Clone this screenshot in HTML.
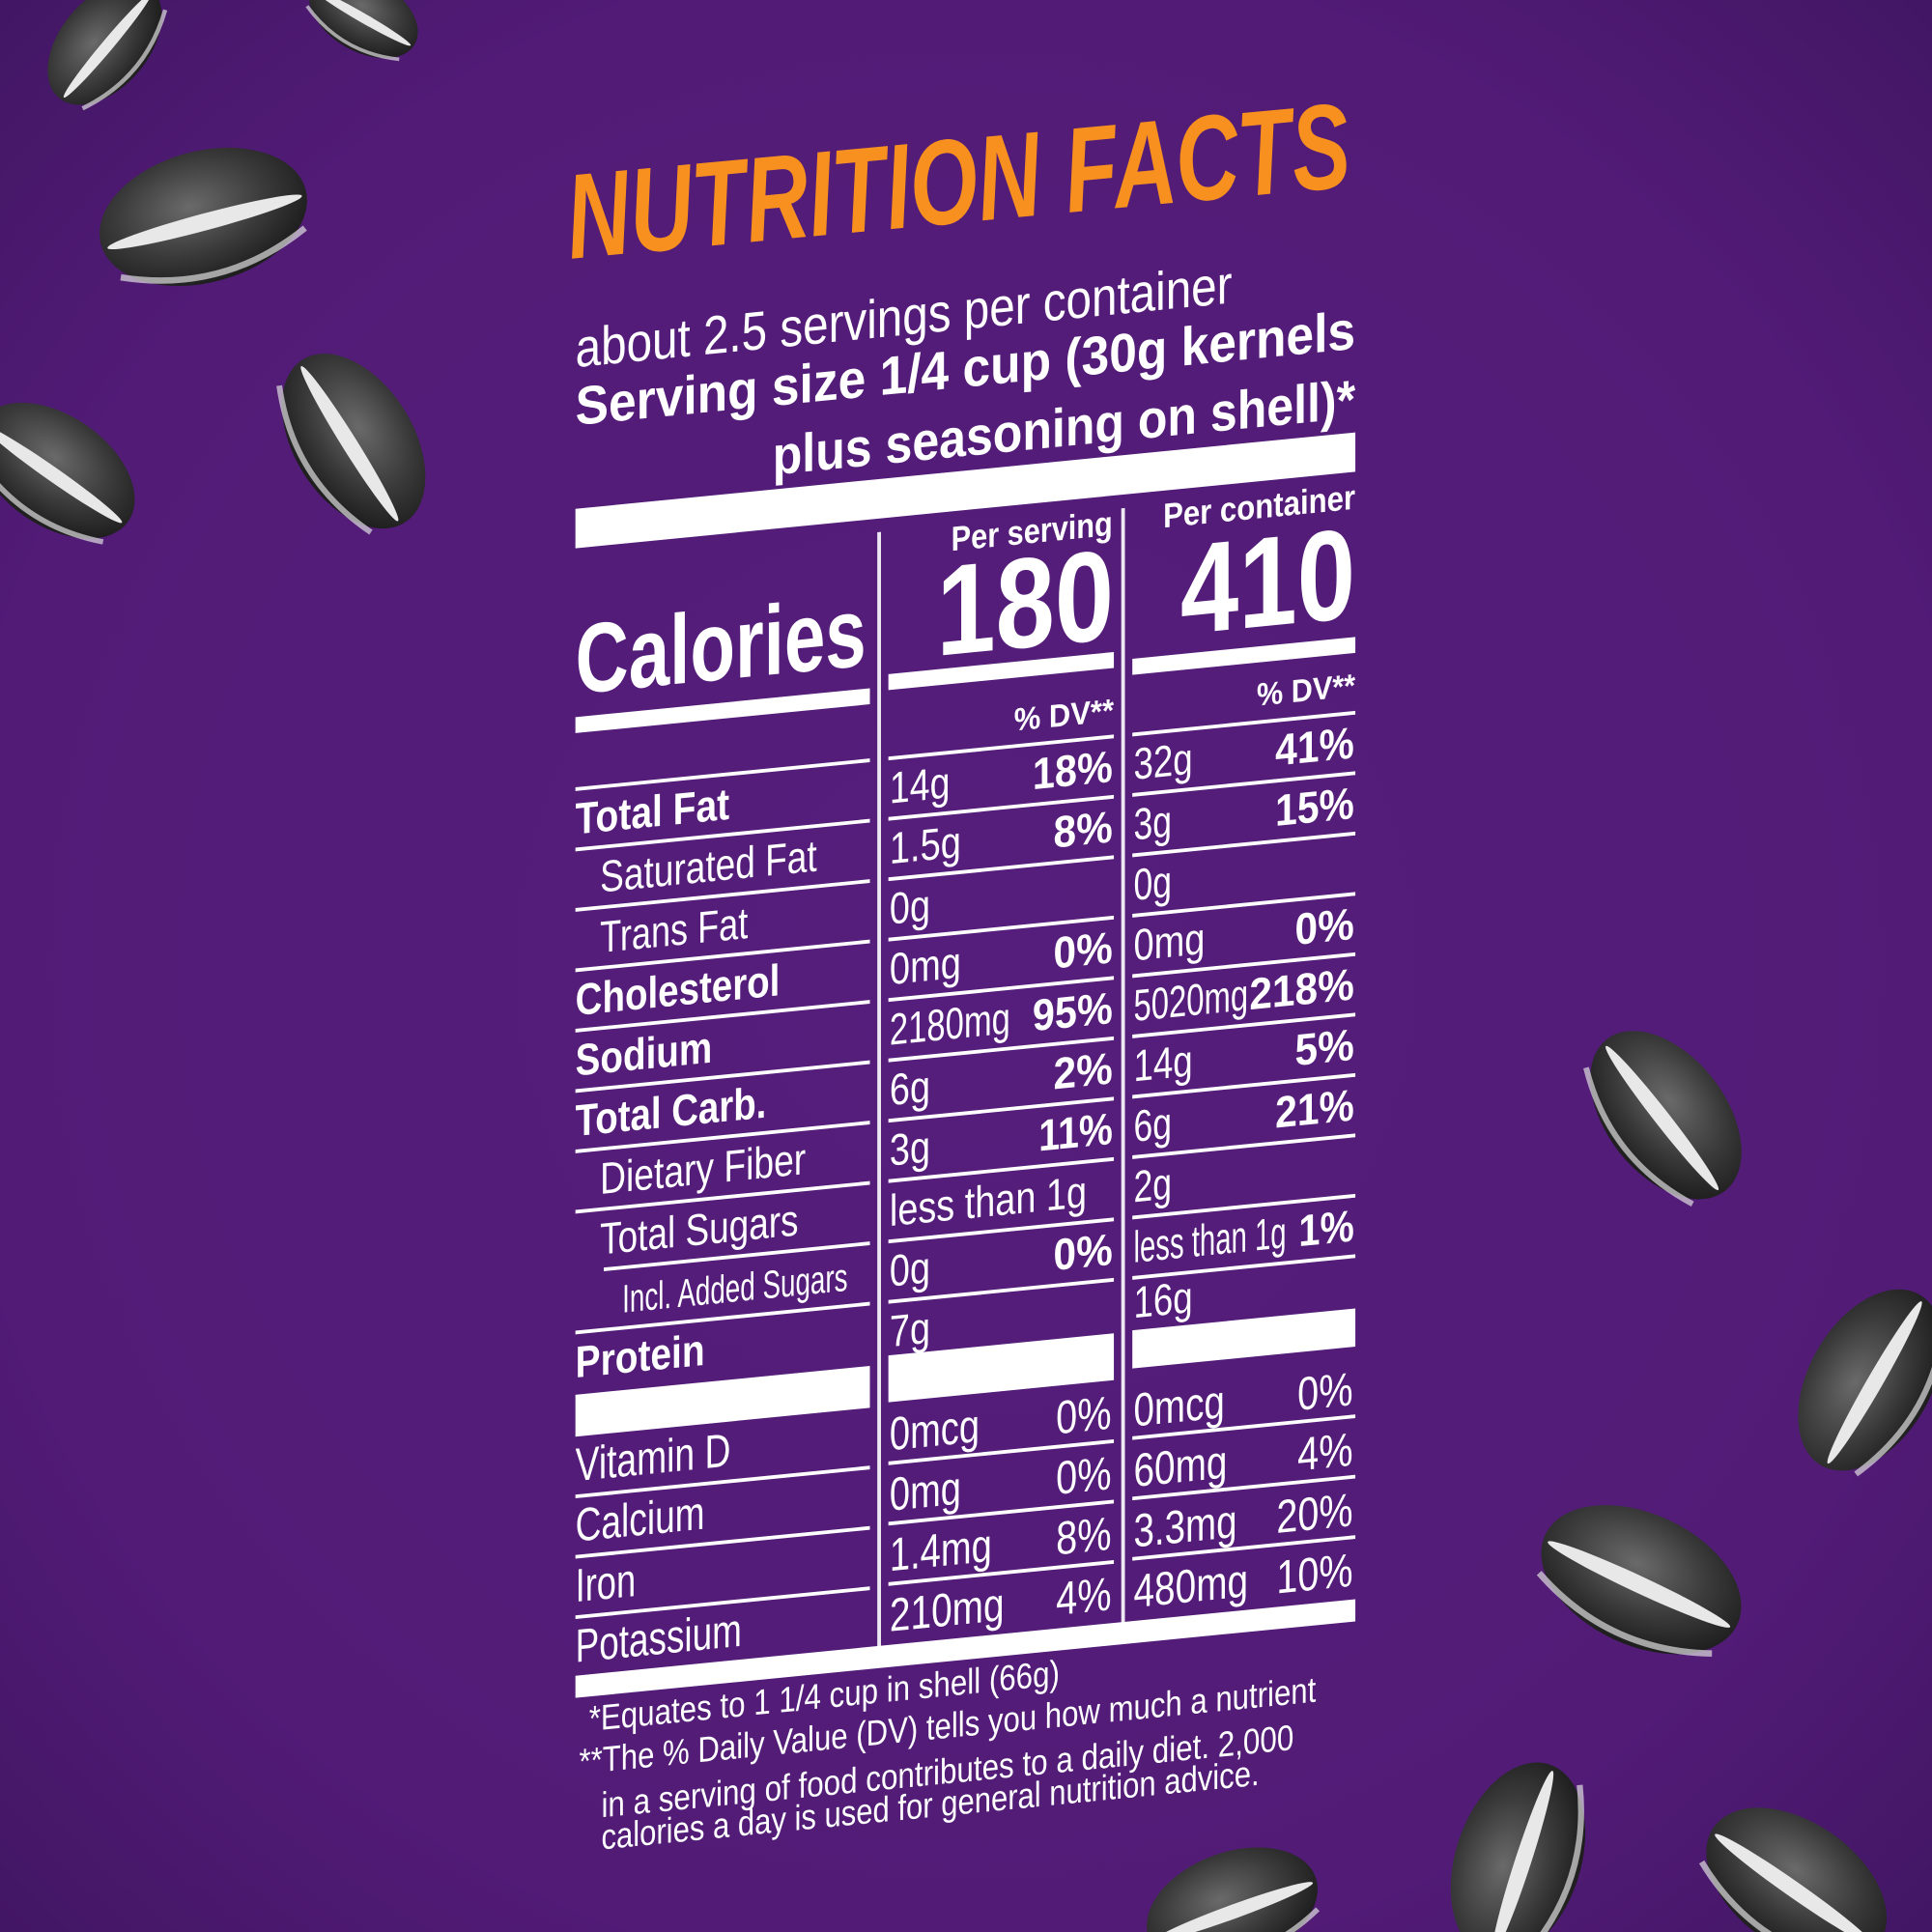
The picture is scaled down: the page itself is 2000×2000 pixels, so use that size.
<!DOCTYPE html>
<html><head><meta charset="utf-8"><style>
html,body{margin:0;padding:0;width:2000px;height:2000px;overflow:hidden;background:#521c78}
svg{display:block}
text{font-family:"Liberation Sans",sans-serif;fill:#fff}
.b{font-weight:bold}
</style></head><body>
<svg width="2000" height="2000" viewBox="0 0 1568 1568" xmlns="http://www.w3.org/2000/svg">
<defs>
<radialGradient id="bg" cx="0.5" cy="0.5" r="0.75">
<stop offset="0" stop-color="#561e7c"/><stop offset="0.7" stop-color="#511b76"/><stop offset="1" stop-color="#3f1560"/>
</radialGradient>
<radialGradient id="sd" cx="0.45" cy="0.4" r="0.6">
<stop offset="0" stop-color="#6a6a6a"/><stop offset="0.6" stop-color="#3a3a3a"/><stop offset="1" stop-color="#1e1e1e"/>
</radialGradient>
<g id="seed"><ellipse cx="0" cy="0" rx="1" ry="0.62" fill="url(#sd)"/><ellipse cx="0" cy="0.05" rx="0.95" ry="0.08" fill="#e8e8e8"/><path d="M-0.9,0.35 Q0,0.75 0.9,0.35" stroke="#ddd" stroke-width="0.06" fill="none" opacity="0.7"/></g>
</defs>
<rect width="1568" height="1568" fill="url(#bg)"/>
<use href="#seed" transform="translate(85,35) rotate(-50) scale(58,58)"/>
<use href="#seed" transform="translate(295,12) rotate(30) scale(48,48)"/>
<use href="#seed" transform="translate(165,176) rotate(-15) scale(86,86)"/>
<use href="#seed" transform="translate(287,358) rotate(58) scale(78,78)"/>
<use href="#seed" transform="translate(45,382) rotate(35) scale(72,72)"/>
<use href="#seed" transform="translate(1352,905) rotate(52) scale(78,78)"/>
<use href="#seed" transform="translate(1518,1120) rotate(-60) scale(80,80)"/>
<use href="#seed" transform="translate(1332,1282) rotate(25) scale(86,86)"/>
<use href="#seed" transform="translate(1232,1510) rotate(-72) scale(82,82)"/>
<use href="#seed" transform="translate(1000,1548) rotate(-20) scale(72,72)"/>
<use href="#seed" transform="translate(1458,1530) rotate(35) scale(82,82)"/>

<text x="463" y="210" transform="rotate(-5.3 463 210)" font-size="98" font-weight="bold" font-style="italic" style="fill:#f7901e" textLength="638" lengthAdjust="spacingAndGlyphs">NUTRITION FACTS</text>

<g transform="translate(467,0) skewY(-5.6) translate(-467,0)">
<text x="467" y="298" font-size="44" textLength="533" lengthAdjust="spacingAndGlyphs">about 2.5 servings per container</text>
<text class="b" x="467" y="345" font-size="44" textLength="633" lengthAdjust="spacingAndGlyphs">Serving size  1/4 cup (30g kernels</text>
<text class="b" x="627" y="401" font-size="44" textLength="473" lengthAdjust="spacingAndGlyphs">plus seasoning on shell)*</text>
<rect x="467" y="413" width="633" height="32" fill="#fff"/>

<rect x="712" y="456" width="3" height="908" fill="#fff" opacity="0.9"/>
<rect x="910" y="456" width="3" height="908" fill="#fff" opacity="0.9"/>

<text class="b" x="772" y="477" font-size="28" textLength="131" lengthAdjust="spacingAndGlyphs">Per serving</text>
<text class="b" x="760" y="561" font-size="104" textLength="144" lengthAdjust="spacingAndGlyphs">180</text>
<text class="b" x="944" y="475" font-size="28" textLength="156" lengthAdjust="spacingAndGlyphs">Per container</text>
<text class="b" x="958" y="563" font-size="104" textLength="142" lengthAdjust="spacingAndGlyphs">410</text>
<text class="b" x="467" y="563" font-size="80" textLength="236" lengthAdjust="spacingAndGlyphs">Calories</text>
<rect x="467" y="582" width="239" height="13" fill="#fff"/>
<rect x="721" y="572" width="183" height="13" fill="#fff"/>
<rect x="919" y="579" width="181" height="13" fill="#fff"/>
<text class="b" x="904" y="628" font-size="26" text-anchor="end" textLength="81" lengthAdjust="spacingAndGlyphs">% DV**</text>
<text class="b" x="1100" y="627" font-size="26" text-anchor="end" textLength="80" lengthAdjust="spacingAndGlyphs">% DV**</text>

<g fill="#fff">
<rect x="467" y="639" width="239" height="3"/><rect x="721" y="639" width="183" height="3"/><rect x="919" y="639" width="181" height="3"/>
<rect x="467" y="688" width="239" height="3"/><rect x="721" y="688" width="183" height="3"/><rect x="919" y="688" width="181" height="3"/>
<rect x="467" y="737" width="239" height="3"/><rect x="721" y="737" width="183" height="3"/><rect x="919" y="737" width="181" height="3"/>
<rect x="467" y="786" width="239" height="3"/><rect x="721" y="786" width="183" height="3"/><rect x="919" y="786" width="181" height="3"/>
<rect x="467" y="835" width="239" height="3"/><rect x="721" y="835" width="183" height="3"/><rect x="919" y="835" width="181" height="3"/>
<rect x="467" y="884" width="239" height="3"/><rect x="721" y="884" width="183" height="3"/><rect x="919" y="884" width="181" height="3"/>
<rect x="467" y="933" width="239" height="3"/><rect x="721" y="933" width="183" height="3"/><rect x="919" y="933" width="181" height="3"/>
<rect x="467" y="982" width="239" height="3"/><rect x="721" y="982" width="183" height="3"/><rect x="919" y="982" width="181" height="3"/>
<rect x="490" y="1031" width="216" height="3"/><rect x="721" y="1031" width="183" height="3"/><rect x="919" y="1031" width="181" height="3"/>
<rect x="467" y="1080" width="239" height="3"/><rect x="721" y="1080" width="183" height="3"/><rect x="919" y="1080" width="181" height="3"/>
<rect x="467" y="1132" width="239" height="34"/><rect x="721" y="1125" width="183" height="38"/><rect x="919" y="1124" width="181" height="31"/>
<rect x="467" y="1213" width="239" height="3"/><rect x="721" y="1211" width="183" height="3"/><rect x="919" y="1210" width="181" height="3"/>
<rect x="467" y="1262" width="239" height="3"/><rect x="721" y="1260" width="183" height="3"/><rect x="919" y="1259" width="181" height="3"/>
<rect x="467" y="1311" width="239" height="3"/><rect x="721" y="1309" width="183" height="3"/><rect x="919" y="1308" width="181" height="3"/>
<rect x="467" y="1360" width="633" height="18"/>
</g>

<g font-size="36">
<text class="b" x="467" y="677" textLength="125" lengthAdjust="spacingAndGlyphs">Total Fat</text>
<text x="487" y="726" textLength="176" lengthAdjust="spacingAndGlyphs">Saturated Fat</text>
<text x="487" y="775" textLength="120" lengthAdjust="spacingAndGlyphs">Trans Fat</text>
<text class="b" x="467" y="824" textLength="166" lengthAdjust="spacingAndGlyphs">Cholesterol</text>
<text class="b" x="467" y="873" textLength="111" lengthAdjust="spacingAndGlyphs">Sodium</text>
<text class="b" x="467" y="922" textLength="155" lengthAdjust="spacingAndGlyphs">Total Carb.</text>
<text x="487" y="971" textLength="167" lengthAdjust="spacingAndGlyphs">Dietary Fiber</text>
<text x="487" y="1020" textLength="161" lengthAdjust="spacingAndGlyphs">Total Sugars</text>
<text x="505" y="1069" font-size="32" textLength="183" lengthAdjust="spacingAndGlyphs">Incl. Added Sugars</text>
<text class="b" x="467" y="1118" textLength="105" lengthAdjust="spacingAndGlyphs">Protein</text>

<text x="722" y="677" textLength="49" lengthAdjust="spacingAndGlyphs">14g</text>
<text x="722" y="726" textLength="58" lengthAdjust="spacingAndGlyphs">1.5g</text>
<text x="722" y="775" textLength="33" lengthAdjust="spacingAndGlyphs">0g</text>
<text x="722" y="824" textLength="58" lengthAdjust="spacingAndGlyphs">0mg</text>
<text x="722" y="873" textLength="98" lengthAdjust="spacingAndGlyphs">2180mg</text>
<text x="722" y="922" textLength="33" lengthAdjust="spacingAndGlyphs">6g</text>
<text x="722" y="971" textLength="33" lengthAdjust="spacingAndGlyphs">3g</text>
<text x="722" y="1020" textLength="160" lengthAdjust="spacingAndGlyphs">less than 1g</text>
<text x="722" y="1069" textLength="33" lengthAdjust="spacingAndGlyphs">0g</text>
<text x="722" y="1118" textLength="33" lengthAdjust="spacingAndGlyphs">7g</text>

<g class="b" text-anchor="end">
<text x="903" y="677" textLength="65" lengthAdjust="spacingAndGlyphs">18%</text>
<text x="903" y="726" textLength="48" lengthAdjust="spacingAndGlyphs">8%</text>
<text x="903" y="824" textLength="48" lengthAdjust="spacingAndGlyphs">0%</text>
<text x="903" y="873" textLength="65" lengthAdjust="spacingAndGlyphs">95%</text>
<text x="903" y="922" textLength="48" lengthAdjust="spacingAndGlyphs">2%</text>
<text x="903" y="971" textLength="60" lengthAdjust="spacingAndGlyphs">11%</text>
<text x="903" y="1069" textLength="48" lengthAdjust="spacingAndGlyphs">0%</text>
<text x="1099" y="677" textLength="64" lengthAdjust="spacingAndGlyphs">41%</text>
<text x="1099" y="726" textLength="64" lengthAdjust="spacingAndGlyphs">15%</text>
<text x="1099" y="824" textLength="48" lengthAdjust="spacingAndGlyphs">0%</text>
<text x="1099" y="873" textLength="85" lengthAdjust="spacingAndGlyphs">218%</text>
<text x="1099" y="922" textLength="48" lengthAdjust="spacingAndGlyphs">5%</text>
<text x="1099" y="971" textLength="64" lengthAdjust="spacingAndGlyphs">21%</text>
<text x="1099" y="1069" textLength="45" lengthAdjust="spacingAndGlyphs">1%</text>
</g>

<text x="920" y="677" textLength="48" lengthAdjust="spacingAndGlyphs">32g</text>
<text x="920" y="726" textLength="31" lengthAdjust="spacingAndGlyphs">3g</text>
<text x="920" y="775" textLength="31" lengthAdjust="spacingAndGlyphs">0g</text>
<text x="920" y="824" textLength="58" lengthAdjust="spacingAndGlyphs">0mg</text>
<text x="920" y="873" textLength="93" lengthAdjust="spacingAndGlyphs">5020mg</text>
<text x="920" y="922" textLength="48" lengthAdjust="spacingAndGlyphs">14g</text>
<text x="920" y="971" textLength="31" lengthAdjust="spacingAndGlyphs">6g</text>
<text x="920" y="1020" textLength="31" lengthAdjust="spacingAndGlyphs">2g</text>
<text x="920" y="1069" textLength="124" lengthAdjust="spacingAndGlyphs">less than 1g</text>
<text x="920" y="1114" textLength="48" lengthAdjust="spacingAndGlyphs">16g</text>
</g>

<g font-size="38">
<text x="467" y="1202" textLength="126" lengthAdjust="spacingAndGlyphs">Vitamin D</text>
<text x="467" y="1251" textLength="105" lengthAdjust="spacingAndGlyphs">Calcium</text>
<text x="467" y="1300" textLength="49" lengthAdjust="spacingAndGlyphs">Iron</text>
<text x="467" y="1349" textLength="135" lengthAdjust="spacingAndGlyphs">Potassium</text>
<text x="722" y="1202" textLength="73" lengthAdjust="spacingAndGlyphs">0mcg</text>
<text x="722" y="1251" textLength="58" lengthAdjust="spacingAndGlyphs">0mg</text>
<text x="722" y="1300" textLength="83" lengthAdjust="spacingAndGlyphs">1.4mg</text>
<text x="722" y="1349" textLength="93" lengthAdjust="spacingAndGlyphs">210mg</text>
<text x="920" y="1202" textLength="74" lengthAdjust="spacingAndGlyphs">0mcg</text>
<text x="920" y="1251" textLength="76" lengthAdjust="spacingAndGlyphs">60mg</text>
<text x="920" y="1300" textLength="84" lengthAdjust="spacingAndGlyphs">3.3mg</text>
<text x="920" y="1349" textLength="93" lengthAdjust="spacingAndGlyphs">480mg</text>
<g text-anchor="end">
<text x="902" y="1202" textLength="45" lengthAdjust="spacingAndGlyphs">0%</text>
<text x="902" y="1251" textLength="45" lengthAdjust="spacingAndGlyphs">0%</text>
<text x="902" y="1300" textLength="45" lengthAdjust="spacingAndGlyphs">8%</text>
<text x="902" y="1349" textLength="45" lengthAdjust="spacingAndGlyphs">4%</text>
<text x="1098" y="1202" textLength="45" lengthAdjust="spacingAndGlyphs">0%</text>
<text x="1098" y="1251" textLength="45" lengthAdjust="spacingAndGlyphs">4%</text>
<text x="1098" y="1300" textLength="62" lengthAdjust="spacingAndGlyphs">20%</text>
<text x="1098" y="1349" textLength="62" lengthAdjust="spacingAndGlyphs">10%</text>
</g>
</g>

<g font-size="29">
<text x="478" y="1406" textLength="382" lengthAdjust="spacingAndGlyphs">*Equates to 1 1/4 cup in shell (66g)</text>
<text x="470" y="1440" textLength="598" lengthAdjust="spacingAndGlyphs">**The % Daily Value (DV) tells you how much a nutrient</text>
<text x="488" y="1477" textLength="562" lengthAdjust="spacingAndGlyphs">in a serving of food contributes to a daily diet. 2,000</text>
<text x="488" y="1503" textLength="534" lengthAdjust="spacingAndGlyphs">calories a day is used for general nutrition advice.</text>
</g>
</g>
</svg>
</body></html>
